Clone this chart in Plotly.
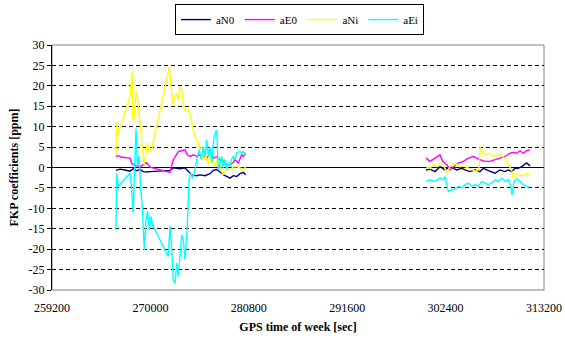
import plotly.graph_objects as go

# ---- data (GPS time of week [s], FKP coefficients [ppm]) ----
# segment 1
t_aN0_1 = [266220, 266660, 267210, 267760, 268120, 268500, 268860, 269220, 269590, 269960,
           272150, 272510, 273250, 273800, 274160, 274530, 275080, 275440, 275990, 276540,
           276900, 277280, 277640, 278010, 278370, 278740, 279100, 279470, 279830, 280200, 280460]
aN0_1 = [-0.7, -0.4, -0.6, -0.9, -0.3, -0.8, -0.5, -1.0, -1.1, -1.0,
         -0.7, -0.1, -0.3, -0.1, -0.9, -1.8, -2.0, -1.8, -2.0, -1.5,
         -0.7, -0.5, -1.1, -1.8, -2.2, -2.6, -2.0, -2.2, -1.5, -1.2, -1.8]

t_aE0_1 = [266220, 266480, 266880, 267760, 267950, 268120, 268500, 268860, 269220, 269590,
           269960, 270510, 272150, 272510, 272810, 273060, 273440, 273800, 274050, 274350,
           274710, 275080, 275440, 275810, 276180, 276540, 276900, 277280, 277640, 278010,
           278370, 278740, 279100, 279290, 279650, 280020, 280200, 280460]
aE0_1 = [2.7, 2.9, 2.5, 2.3, 1.1, 0.7, 0.4, 0.2, 0.7, 1.2,
         0.1, -0.2, -1.2, 1.9, 3.1, 3.9, 4.1, 4.3, 3.1, 2.7,
         3.1, 2.7, 3.1, 2.7, 2.3, 3.1, 2.3, 2.7, 1.9, 1.5,
         0.7, 0.7, 1.2, 1.9, 1.1, 3.1, 2.7, 3.5]

t_aNi_1 = [266220, 266330, 266440, 267760, 268010, 268060, 268200, 268420, 268610, 268780,
           268940, 269110, 269300, 269520, 269660, 269880, 270140, 272070, 272260, 272450,
           272700, 272890, 273060, 273250, 273440, 273610, 273910, 274160, 274420, 274710,
           275010, 275260, 275440, 275630, 275810, 276100, 276360, 276540, 276730, 276900,
           277090, 277280, 277450, 277640, 277940, 278190, 278440, 278740, 279100, 279470,
           279830, 280200, 280460]
aNi_1 = [3.1, 11.0, 8.0, 17.4, 23.5, 12.2, 11.5, 18.6, 16.6, 12.5,
         9.2, 5.1, 0.7, 3.6, 6.0, 3.9, 4.3, 24.7, 20.7, 15.4,
         17.4, 18.2, 16.6, 19.8, 19.0, 14.9, 13.7, 14.1, 12.5, 9.2,
         6.8, 6.0, 4.3, 5.1, 1.9, 2.7, 0.7, 4.3, 1.2, 1.9,
         0.2, 1.2, 2.3, 0.7, -1.8, -1.0, -0.1, -0.6, 0.2, 0.2,
         -0.1, -0.4, 0.2]

t_aEi_1 = [266220, 266300, 266480, 267760, 267950, 268120, 268230, 268420, 268570, 268750,
           268940, 269110, 269330, 269520, 269700, 269880, 270060, 270250, 271960, 272150,
           272340, 272510, 272700, 272890, 273060, 273250, 273440, 273610, 273800, 274050,
           274240, 274420, 274640, 274900, 275150, 275370, 275560, 275810, 276000, 276180,
           276360, 276540, 276730, 276900, 277090, 277280, 277370, 277450, 277640, 277830,
           278010, 278190, 278370, 278550, 278740, 278920, 279100, 279290, 279470, 279830,
           280020, 280200, 280460]
aEi_1 = [-15.3, -1.4, -4.6, -1.4, -5.5, -11.2, -2.2, 9.5, 0.2, 2.9,
         -5.5, -9.5, -20.2, -12.8, -10.7, -15.3, -12.0, -14.1, -21.8, -14.4,
         -20.2, -27.5, -28.3, -23.4, -26.7, -21.8, -16.5, -17.7, -22.6, -14.4,
         -3.0, -1.4, -2.6, -0.5, 2.7, 4.3, 2.0, 5.1, 2.7, 6.8,
         2.7, 5.1, 1.2, 6.0, 8.4, 9.1, 4.3, -0.5, 1.2, 2.7,
         -0.1, 2.0, -0.4, 1.2, 0.2, 2.0, 2.7, 2.0, 3.6, 3.9,
         3.6, 3.9, 3.1]

# segment 2
t_aN0_2 = [300250, 300690, 301240, 301790, 302340, 302880, 303250, 303620, 304170, 304530,
           305080, 305630, 306180, 306540, 306910, 307460, 307820, 308370, 308920, 309280,
           309650, 310020, 310380, 310750, 311120, 311300, 311660]
aN0_2 = [-0.6, -0.4, -1.0, 0.2, -0.6, 0.2, -0.2, -0.6, -0.2, -0.6,
         -1.0, -0.6, -1.0, -0.2, -0.6, -1.0, -1.4, -0.6, -1.0, -0.6,
         -1.0, -0.2, -0.2, 0.2, 0.7, 1.1, 0.4]

t_aE0_2 = [300250, 300690, 301240, 301790, 302080, 302520, 302880, 303250, 303800, 304350,
           304890, 305440, 306180, 306730, 307270, 307820, 308370, 308920, 309470, 309830,
           310200, 310570, 310930, 311300, 311660]
aE0_2 = [2.3, 1.5, 2.3, 3.1, 1.5, 0.7, -0.6, 0.2, 1.1, 1.5,
         2.3, 2.7, 1.9, 1.5, 1.5, 1.9, 2.3, 2.7, 3.5, 3.7,
         3.5, 4.1, 3.5, 4.1, 4.3]

t_aNi_2 = [300250, 300690, 301050, 301420, 301790, 302080, 302340, 302520, 302880, 303250,
           303620, 303980, 304350, 304720, 305080, 305440, 305820, 306100, 306180, 306360,
           306730, 307090, 307460, 307820, 308370, 308920, 309280, 309650, 309830, 310200,
           310570, 310930, 311300, 311590]
aNi_2 = [0.2, -0.2, 0.7, 0.2, 1.1, 0.7, -0.2, -1.4, 0.2, 1.1,
         0.7, 0.2, 0.4, 0.0, -0.2, -0.6, -1.0, 0.2, 5.1, 3.9,
         3.1, 3.5, 3.1, 2.7, 3.1, 2.3, 0.7, -0.6, -2.6, -1.8,
         -1.8, -2.0, -1.6, -1.7]

t_aEi_2 = [300250, 300690, 301050, 301420, 301790, 302150, 302340, 302520, 302700, 303070,
           303430, 303800, 304170, 304530, 304890, 305270, 305630, 305990, 306360, 306730,
           307090, 307460, 307820, 308190, 308560, 308920, 309280, 309550, 309690, 309910,
           310200, 310570, 310930, 311300, 311660]
aEi_2 = [-3.4, -3.0, -3.4, -3.2, -2.6, -3.0, -2.2, -3.8, -5.9, -5.5,
         -5.3, -4.6, -5.0, -4.2, -3.8, -4.6, -4.2, -4.6, -3.4, -3.8,
         -4.2, -3.8, -3.0, -3.4, -2.6, -3.4, -3.0, -4.6, -6.7, -3.4,
         -2.8, -3.4, -4.2, -4.6, -4.8]

series_names = ["aN0", "aE0", "aNi", "aEi"]
series_colors = ["#000080", "#FF00FF", "#FFFF00", "#00FFFF"]

x_ticks = [259200, 270000, 280800, 291600, 302400, 313200]
y_ticks = [-30, -25, -20, -15, -10, -5, 0, 5, 10, 15, 20, 25, 30]

segments = {
    "aN0": (t_aN0_1, aN0_1, t_aN0_2, aN0_2),
    "aE0": (t_aE0_1, aE0_1, t_aE0_2, aE0_2),
    "aNi": (t_aNi_1, aNi_1, t_aNi_2, aNi_2),
    "aEi": (t_aEi_1, aEi_1, t_aEi_2, aEi_2),
}

FONT = "Liberation Serif"

fig = go.Figure()
for name, color in zip(series_names, series_colors):
    t1, v1, t2, v2 = segments[name]
    gap_t = (t1[-1] + t2[0]) / 2
    fig.add_trace(go.Scatter(
        x=list(t1) + [gap_t] + list(t2),
        y=list(v1) + [None] + list(v2),
        mode="lines", name=name, connectgaps=False,
        line=dict(color=color, width=1.4),
    ))

fig.update_layout(
    width=565, height=339,
    margin=dict(l=52, r=21, t=45, b=49, autoexpand=False),
    paper_bgcolor="white", plot_bgcolor="white",
    font=dict(family=FONT, size=12, color="black"),
    showlegend=True,
    legend=dict(orientation="h", x=0.53, xanchor="center", y=0.988, yanchor="top",
                xref="container", yref="container",
                bordercolor="black", borderwidth=1, font=dict(size=11, family=FONT),
                bgcolor="white", tracegroupgap=0, itemwidth=30),
    xaxis=dict(range=[259200, 313200], tickvals=x_ticks, ticktext=[str(v) for v in x_ticks],
               showgrid=False, zeroline=False, showline=False, ticks="outside",
               ticklen=7, tickcolor="rgba(0,0,0,0)", automargin=False,
               tickfont=dict(size=12, family=FONT),
               title=dict(text="<b>GPS time of week [sec]</b>", font=dict(size=12, family=FONT), standoff=8)),
    xaxis2=dict(range=[259200, 313200], tickvals=x_ticks, overlaying="x", anchor="free",
                position=0.5, showticklabels=False, ticks="outside", ticklen=4,
                tickcolor="black", showgrid=False, zeroline=False, showline=False),
    yaxis=dict(range=[-30, 30], tickvals=y_ticks, ticktext=[str(v) for v in y_ticks],
               showgrid=True, gridcolor="black", gridwidth=1, griddash="4px,3px",
               zeroline=True, zerolinecolor="black", zerolinewidth=1,
               showline=True, linecolor="black", linewidth=1,
               ticks="outside", ticklen=4, tickcolor="black", automargin=False,
               tickfont=dict(size=12, family=FONT),
               title=dict(text="<b>FKP coefficients [ppm]</b>", font=dict(size=12, family=FONT), standoff=7)),
    shapes=[dict(type="rect", xref="paper", yref="paper", x0=0, x1=1, y0=0, y1=1,
                 line=dict(color="#808080", width=1), layer="below")],
)

fig.write_html("out.html", config={"displayModeBar": False},
               post_script="document.body.style.margin='0';document.body.style.padding='0';")
